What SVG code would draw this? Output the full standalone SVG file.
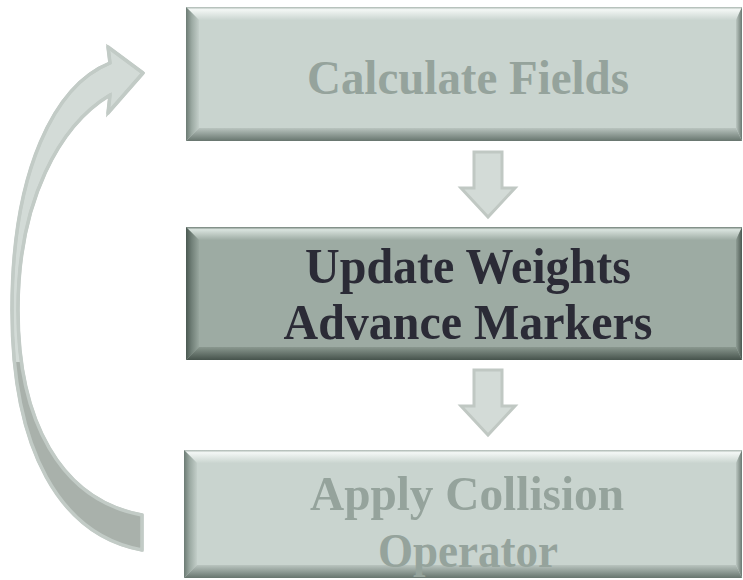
<svg xmlns="http://www.w3.org/2000/svg" width="743" height="580" viewBox="0 0 743 580">
<style>
.lbl{font-family:"Liberation Serif","Times New Roman",serif;font-weight:bold;text-anchor:middle}
.dim{fill:#95a39c}
.hot{fill:#2b2b36}
.arr{fill:#d3dbd7;stroke:#c0c8c3;stroke-width:3;stroke-linejoin:miter}
</style>
<defs>
<linearGradient id="lTop" x1="0" y1="0" x2="0" y2="1"><stop offset="0" stop-color="#a9b5af"/><stop offset="0.2" stop-color="#f3f7f5"/><stop offset="1" stop-color="#cad5d0"/></linearGradient>
<linearGradient id="lLeft" x1="0" y1="0" x2="1" y2="0"><stop offset="0" stop-color="#6c7b74"/><stop offset="0.45" stop-color="#9caaa3"/><stop offset="1" stop-color="#c3cec9"/></linearGradient>
<linearGradient id="lBot" x1="0" y1="0" x2="0" y2="1"><stop offset="0" stop-color="#b9c4bf"/><stop offset="1" stop-color="#67756e"/></linearGradient>
<linearGradient id="lRight" x1="0" y1="0" x2="1" y2="0"><stop offset="0" stop-color="#bcc7c2"/><stop offset="1" stop-color="#6b7972"/></linearGradient>
<linearGradient id="dTop" x1="0" y1="0" x2="0" y2="1"><stop offset="0" stop-color="#6f7e76"/><stop offset="0.2" stop-color="#d9e3de"/><stop offset="1" stop-color="#9eaca4"/></linearGradient>
<linearGradient id="dLeft" x1="0" y1="0" x2="1" y2="0"><stop offset="0" stop-color="#4b5952"/><stop offset="0.45" stop-color="#728179"/><stop offset="1" stop-color="#98a69e"/></linearGradient>
<linearGradient id="dBot" x1="0" y1="0" x2="0" y2="1"><stop offset="0" stop-color="#8a988f"/><stop offset="1" stop-color="#46534c"/></linearGradient>
<linearGradient id="dRight" x1="0" y1="0" x2="1" y2="0"><stop offset="0" stop-color="#8f9d95"/><stop offset="1" stop-color="#4c5952"/></linearGradient>
<clipPath id="curveClip"><path d="M142,515 C60,500 18,420 18,310 C18,200 60,125 110,95 L108,113 L143,73 L108,47 L110,63 C55,85 12,170 12,310 C12,450 60,535 142,550 Z"/></clipPath>
</defs>

<g id="connectors">
  <path class="arr" d="M142,515 C60,500 18,420 18,310 C18,200 60,125 110,95 L108,113 L143,73 L108,47 L110,63 C55,85 12,170 12,310 C12,450 60,535 142,550 Z"/>
  <rect x="0" y="362" width="150" height="200" fill="#a9b1ab" clip-path="url(#curveClip)"/>
  <path d="M142,515 C60,500 18,420 18,310 C18,200 60,125 110,95 L108,113 L143,73 L108,47 L110,63 C55,85 12,170 12,310 C12,450 60,535 142,550 Z" fill="none" stroke="#c2cbc6" stroke-width="3.5" stroke-linejoin="round"/>
  <path class="arr" d="M474,152 L502,152 L502,188 L515,188 L488,217 L461,188 L474,188 Z"/>
  <path class="arr" d="M474,370 L502,370 L502,406 L515,406 L488,435 L461,406 L474,406 Z"/>
</g>

<g id="node-calculate">
  <rect x="186" y="7" width="556" height="134" fill="#c9d4cf"/>
  <polygon points="186,7 742,7 736,20 199,20" fill="url(#lTop)"/>
  <polygon points="186,7 199,20 199,128 186,141" fill="url(#lLeft)"/>
  <polygon points="186,141 199,128 736,128 742,141" fill="url(#lBot)"/>
  <polygon points="742,7 742,141 736,128 736,20" fill="url(#lRight)"/>
  <text class="lbl dim" x="468" y="94" font-size="49" textLength="322" lengthAdjust="spacingAndGlyphs">Calculate Fields</text>
</g>

<g id="node-update">
  <rect x="186" y="227" width="556" height="133" fill="#9daba3"/>
  <polygon points="186,227 742,227 736,240 199,240" fill="url(#dTop)"/>
  <polygon points="186,227 199,240 199,347 186,360" fill="url(#dLeft)"/>
  <polygon points="186,360 199,347 736,347 742,360" fill="url(#dBot)"/>
  <polygon points="742,227 742,360 736,347 736,240" fill="url(#dRight)"/>
  <text class="lbl hot" x="468" y="283" font-size="51" textLength="326" lengthAdjust="spacingAndGlyphs">Update Weights</text>
  <text class="lbl hot" x="468" y="339" font-size="51" textLength="369" lengthAdjust="spacingAndGlyphs">Advance Markers</text>
</g>

<g id="node-collision">
  <rect x="184" y="450" width="558" height="128" fill="#c9d4cf"/>
  <polygon points="184,450 742,450 736,463 197,463" fill="url(#lTop)"/>
  <polygon points="184,450 197,463 197,565 184,578" fill="url(#lLeft)"/>
  <polygon points="184,578 197,565 736,565 742,578" fill="url(#lBot)"/>
  <polygon points="742,450 742,578 736,565 736,463" fill="url(#lRight)"/>
  <text class="lbl dim" x="467" y="510" font-size="49" textLength="314" lengthAdjust="spacingAndGlyphs">Apply Collision</text>
  <text class="lbl dim" x="468" y="567" font-size="49" textLength="180" lengthAdjust="spacingAndGlyphs">Operator</text>
</g>
</svg>
